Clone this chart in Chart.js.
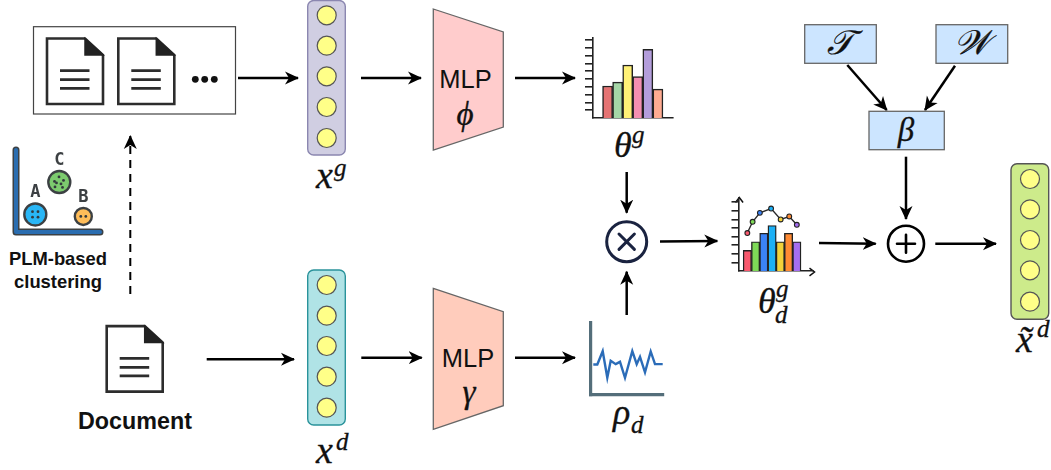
<!DOCTYPE html>
<html>
<head>
<meta charset="utf-8">
<title>Document model diagram</title>
<script src="https://cdn.jsdelivr.net/npm/chart.js@4/dist/chart.umd.min.js"></script>
<style>
  html, body { margin: 0; padding: 0; background: #fff; }
  #stage { position: relative; width: 1051px; height: 470px; overflow: hidden; }
  #stage svg { position: absolute; left: 0; top: 0; }
  #stage canvas { position: absolute; }
  .m { font-family: "Liberation Serif", serif; font-style: italic; fill: #111; stroke: #111; stroke-width: 0.3; }
  .s { font-family: "Liberation Sans", sans-serif; fill: #111; }
  .b { font-family: "Liberation Sans", sans-serif; font-weight: bold; fill: #111; }
  .arrow { stroke: #000; stroke-width: 2.5; fill: none; marker-end: url(#head); }
  .dot { fill: #ffff88; stroke: #555; stroke-width: 1.2; }
</style>
</head>
<body>
<div id="stage">
<svg width="1051" height="470" viewBox="0 0 1051 470" xmlns="http://www.w3.org/2000/svg">
  <defs>
    <marker id="head" markerUnits="userSpaceOnUse" markerWidth="16" markerHeight="14" viewBox="0 0 16 14" refX="13" refY="7" orient="auto">
      <path d="M0 0.5 L14 7 L0 13.5 L4 7 Z" fill="#000"/>
    </marker>
    <g id="doc">
      <path d="M47 38.5 H85 L103 55 V104 H47 Z" fill="#fff" stroke="#2d2d2d" stroke-width="2.6"/>
      <path d="M85 38.5 L103 55 H85 Z" fill="#222" stroke="#222" stroke-width="1.5"/>
      <path d="M60 70.7 H89.5 M60 79.7 H89.5 M60 88.3 H89.5" stroke="#2d2d2d" stroke-width="2.8"/>
    </g>
  </defs>

  <!-- document stack -->
  <rect x="33.5" y="26.7" width="202" height="87.3" fill="#fff" stroke="#444" stroke-width="1.2"/>
  <use href="#doc"/>
  <use href="#doc" x="71.3"/>
  <circle cx="195.3" cy="79.3" r="3.4" fill="#111"/>
  <circle cx="204.7" cy="79.3" r="3.4" fill="#111"/>
  <circle cx="214.3" cy="79.3" r="3.4" fill="#111"/>
  <use href="#doc" x="59.7" y="287.6"/>

  <text class="b" x="58" y="264.5" font-size="18.4" text-anchor="middle">PLM-based</text>
  <text class="b" x="58" y="288" font-size="18.4" text-anchor="middle">clustering</text>
  <text class="b" x="135" y="429" font-size="23.3" text-anchor="middle">Document</text>

  <!-- vectors -->
  <rect x="307.7" y="0.5" width="37.6" height="154.5" rx="6" fill="#d0cee2" stroke="#8b87b0" stroke-width="1.4"/>
  <circle class="dot" cx="326.7" cy="15.3" r="9.5"/><circle class="dot" cx="326.7" cy="45.7" r="9.5"/><circle class="dot" cx="326.7" cy="76.3" r="9.5"/><circle class="dot" cx="326.7" cy="107" r="9.5"/><circle class="dot" cx="326.7" cy="138" r="9.5"/>
  <rect x="307.7" y="270" width="37.6" height="155" rx="6" fill="#b0e3e6" stroke="#2a939b" stroke-width="1.4"/>
  <circle class="dot" cx="326.7" cy="285" r="9.5"/><circle class="dot" cx="326.7" cy="315.7" r="9.5"/><circle class="dot" cx="326.7" cy="346" r="9.5"/><circle class="dot" cx="326.7" cy="376.7" r="9.5"/><circle class="dot" cx="326.7" cy="407.7" r="9.5"/>
  <rect x="1011" y="163.7" width="37.7" height="155.6" rx="6" fill="#cdeb8b" stroke="#555" stroke-width="1.4"/>
  <circle class="dot" cx="1030" cy="179" r="9.5"/><circle class="dot" cx="1030" cy="209.3" r="9.5"/><circle class="dot" cx="1030" cy="240" r="9.5"/><circle class="dot" cx="1030" cy="270.3" r="9.5"/><circle class="dot" cx="1030" cy="301.7" r="9.5"/>

  <!-- MLP blocks -->
  <path d="M433.3 9 L503.3 32 V127 L433.3 150 Z" fill="#ffcccc" stroke="#666" stroke-width="1.3"/>
  <text class="s" x="465.5" y="88" font-size="25.5" text-anchor="middle">MLP</text>
  <text class="m" x="465" y="125" font-size="33" text-anchor="middle">ϕ</text>
  <path d="M433.3 288.3 L503.3 311.7 V405.7 L433.3 429.3 Z" fill="#ffccbc" stroke="#666" stroke-width="1.3"/>
  <text class="s" x="468" y="367.3" font-size="25.5" text-anchor="middle">MLP</text>
  <text class="m" x="469" y="403" font-size="33" text-anchor="middle">γ</text>

  <!-- topic / word boxes -->
  <rect x="804.7" y="24.7" width="71.6" height="38.6" fill="#cce5ff" stroke="#666" stroke-width="1.3"/>
  <rect x="936" y="24.7" width="71.7" height="38.6" fill="#cce5ff" stroke="#666" stroke-width="1.3"/>
  <rect x="869" y="111.3" width="75.3" height="38.4" fill="#cce5ff" stroke="#666" stroke-width="1.3"/>
  <text class="m" x="840" y="54" font-size="34" text-anchor="middle">𝒯</text>
  <text class="m" x="972" y="54" font-size="34" text-anchor="middle">𝒲</text>
  <text class="m" x="906" y="141" font-size="33" text-anchor="middle">β</text>

  <!-- operators -->
  <circle cx="626.7" cy="241.7" r="20" fill="#fff" stroke="#1a2340" stroke-width="3"/>
  <path d="M619 234 L634.4 249.4 M634.4 234 L619 249.4" stroke="#1a2340" stroke-width="3" stroke-linecap="round"/>
  <circle cx="906" cy="243.7" r="18" fill="#fff" stroke="#000" stroke-width="2.6"/>
  <path d="M897 243.7 H915 M906 234.7 V252.7" stroke="#000" stroke-width="2.6" stroke-linecap="round"/>

  <!-- arrows -->
  <line class="arrow" x1="238" y1="78" x2="298" y2="78"/>
  <line class="arrow" x1="361" y1="78" x2="421" y2="78"/>
  <line class="arrow" x1="515" y1="78" x2="575" y2="78"/>
  <line class="arrow" x1="206.7" y1="359.3" x2="294" y2="359.3"/>
  <line class="arrow" x1="361.3" y1="357.7" x2="421.7" y2="357.7"/>
  <line class="arrow" x1="515" y1="357.7" x2="575" y2="357.7"/>
  <line class="arrow" x1="626.7" y1="172" x2="626.7" y2="212.7"/>
  <line class="arrow" x1="626.7" y1="315" x2="626.7" y2="271.7"/>
  <line class="arrow" x1="660" y1="241.5" x2="717.3" y2="241"/>
  <line class="arrow" x1="819" y1="243" x2="875.7" y2="243.7"/>
  <line class="arrow" x1="935.3" y1="243.7" x2="996" y2="243.7"/>
  <line class="arrow" x1="906" y1="156.7" x2="906" y2="219"/>
  <line class="arrow" x1="847.3" y1="65" x2="886.7" y2="110"/>
  <line class="arrow" x1="955" y1="65.7" x2="925" y2="110"/>
  <line x1="130.3" y1="294" x2="130.3" y2="136" stroke="#000" stroke-width="2" stroke-dasharray="8 6" marker-end="url(#head)"/>

  <!-- axis arrow tips of the combined chart -->
  <path d="M735.5 202.5 L739.3 197.5 L743.1 202.5" fill="none" stroke="#111" stroke-width="1.5"/>
  <path d="M809.5 268.2 L814.5 272 L809.5 275.8" fill="none" stroke="#111" stroke-width="1.5"/>

  <!-- math labels -->
  <text class="m" x="316" y="188" font-size="38">x</text><text class="m" x="334" y="176" font-size="25">g</text>
  <text class="m" x="316" y="463" font-size="38">x</text><text class="m" x="336" y="450" font-size="25">d</text>
  <text class="m" x="614" y="156.5" font-size="36">θ</text><text class="m" x="632" y="143" font-size="25">g</text>
  <text class="m" x="758" y="313" font-size="36">θ</text><text class="m" x="776" y="297" font-size="25">g</text><text class="m" x="775" y="323" font-size="25">d</text>
  <text class="m" x="613" y="424" font-size="36">ρ</text><text class="m" x="631" y="433" font-size="25">d</text>
  <text class="m" x="1016" y="352" font-size="38">x̃</text><text class="m" x="1037" y="337" font-size="25">d</text>
</svg>
<canvas id="clusterChart"></canvas>
<canvas id="globalChart"></canvas>
<canvas id="localChart"></canvas>
<canvas id="mixChart"></canvas>
</div>

<script>
"use strict";

// theta^g histogram
const globalBins = ['t1', 't2', 't3', 't4', 't5', 't6'];
const globalValues = [4.1, 4.6, 6.8, 5.3, 8.8, 3.7];
const globalColors = ['#e57373', '#a5d6a7', '#fff176', '#f48fb1', '#b39ddb', '#ffab91'];

// theta_d^g bars plus the curve above them
const mixBars = [2.4, 3.4, 4.4, 5.3, 3.4, 4.4, 3.4];
const mixCurveX = [0, 0.64, 1.52, 2.88, 4.04, 5.08, 6];
const mixCurveY = [4.42, 5.73, 6.77, 7.27, 6, 6.35, 5.38];
const mixColors = ['#f9596e', '#7ed957', '#3b82f6', '#1cb0f6', '#f2d13a', '#ff8a33', '#a56ef0'];

// rho_d signal
const rhoX = [2.3, 6.3, 11.7, 16.3, 19.7, 24.7, 29, 34, 41.3, 45.7, 49, 54, 59.7, 64, 71.7];
const rhoY = [30.7, 30.7, 44, 17.3, 34.3, 31, 33.3, 17.3, 44, 31, 38.3, 22.7, 43.7, 31, 31];

// PLM clusters
const clusterNames = ['A', 'B', 'C'];
const clusterX = [19.3, 67.3, 43.3];
const clusterY = [17.7, 15.7, 50.4];
const clusterSizes = [11, 8.5, 11];
const clusterColors = ['#29b6f6', '#ffbd59', '#7ccb6e'];
const seedX = [16.5, 22, 16.5, 22, 64.8, 69.8, 38.5, 43, 47.5, 40.5, 45, 39, 46.5];
const seedY = [20.5, 20.5, 15, 15, 15.7, 15.7, 51, 55.5, 52, 49.5, 48.5, 45.5, 45];

const margin = 14;

function place(id, left, top, width, height) {
  const c = document.getElementById(id);
  c.width = width + margin * 2;
  c.height = height + margin * 2;
  c.style.left = (left - margin) + 'px';
  c.style.top = (top - margin) + 'px';
  return c;
}

function axisOpts(min, max, color, lineWidth, tickLen, step) {
  return {
    type: 'linear',
    min,
    max,
    offset: false,
    afterFit(scale) {
      if (scale.isHorizontal()) scale.height = 0; else scale.width = 0;
    },
    afterTickToLabelConversion(scale) {
      scale.ticks = scale.ticks.filter(t => t.value !== 0);
    },
    ticks: { display: false, stepSize: step || 1000, includeBounds: false },
    border: { display: true, color, width: lineWidth },
    grid: { display: tickLen > 0, offset: false, drawOnChartArea: false, drawTicks: tickLen > 0, tickLength: tickLen, color, lineWidth: lineWidth }
  };
}

function baseOpts(x, y) {
  return {
    responsive: false,
    animation: false,
    events: [],
    layout: { padding: margin },
    plugins: { legend: { display: false }, tooltip: { enabled: false } },
    scales: { x, y }
  };
}

new Chart(place('globalChart', 592.7, 38, 80, 80), {
  type: 'bar',
  data: {
    datasets: [{
      data: globalValues.map((v, i) => ({ x: i, y: v, bin: globalBins[i] })),
      backgroundColor: globalColors,
      borderColor: '#222',
      borderWidth: 1.5,
      barPercentage: 1,
      categoryPercentage: 1
    }]
  },
  options: baseOpts(axisOpts(-1.45, 6.5, '#222', 1.6, 0), axisOpts(0, 10.26, '#222', 1.6, 8, 1))
});

new Chart(place('mixChart', 739.3, 198.3, 74.7, 73.7), {
  type: 'bar',
  data: {
    datasets: [{
      data: mixBars.map((v, i) => ({ x: i, y: v })),
      backgroundColor: mixColors,
      borderColor: '#222',
      borderWidth: 1.4,
      barThickness: 8.33,
      order: 2
    }, {
      type: 'line',
      data: mixCurveX.map((x, i) => ({ x, y: mixCurveY[i] })),
      borderColor: '#2a2a2a',
      borderWidth: 1.4,
      tension: 0,
      pointRadius: 2.4,
      pointBorderWidth: 1.1,
      pointBorderColor: '#222',
      pointBackgroundColor: mixColors,
      order: 1
    }]
  },
  options: baseOpts(axisOpts(-1.01, 7.96, '#222', 1.6, 0), axisOpts(0, 8.5, '#222', 1.6, 7.5, 1))
});

new Chart(place('localChart', 591, 322.7, 72, 72.3), {
  type: 'line',
  data: {
    datasets: [{
      data: rhoX.map((x, i) => ({ x, y: rhoY[i] })),
      borderColor: '#2b6cb8',
      borderWidth: 2.4,
      tension: 0,
      pointRadius: 0
    }]
  },
  options: baseOpts(axisOpts(0, 72, '#546e7a', 3.2, 0), axisOpts(0, 72.3, '#546e7a', 3.2, 0))
});

// thick two tone axes and the A / B / C captions of the cluster plot
const clusterDecor = {
  id: 'clusterDecor',
  beforeDatasetsDraw(chart) {
    const { ctx, chartArea: a } = chart;
    ctx.save();
    ctx.lineCap = 'round';
    ctx.lineJoin = 'round';
    [['#3c4043', 7], ['#2a6db0', 4]].forEach(([color, w]) => {
      ctx.strokeStyle = color;
      ctx.lineWidth = w;
      ctx.beginPath();
      ctx.moveTo(a.left, a.top);
      ctx.lineTo(a.left, a.bottom);
      ctx.lineTo(a.right, a.bottom);
      ctx.stroke();
    });
    ctx.restore();
  },
  afterDatasetsDraw(chart) {
    const { ctx, scales } = chart;
    ctx.save();
    ctx.fillStyle = '#3c4043';
    ctx.font = 'bold 17px "DejaVu Sans Mono", "DejaVu Sans"';
    ctx.textAlign = 'center';
    ctx.textBaseline = 'middle';
    clusterNames.forEach((name, i) => {
      ctx.fillText(name, scales.x.getPixelForValue(clusterX[i]),
        scales.y.getPixelForValue(clusterY[i]) - clusterSizes[i] - 10.5);
    });
    ctx.restore();
  }
};

new Chart(place('clusterChart', 16, 150, 84, 82.7), {
  type: 'scatter',
  plugins: [clusterDecor],
  data: {
    datasets: [{
      data: seedX.map((x, i) => ({ x, y: seedY[i] })),
      pointRadius: 1.4,
      pointBorderWidth: 0,
      pointBackgroundColor: '#33393d'
    }, {
      data: clusterX.map((x, i) => ({ x, y: clusterY[i] })),
      pointRadius: clusterSizes,
      pointBorderWidth: 2.4,
      pointBorderColor: '#3c4043',
      pointBackgroundColor: clusterColors
    }]
  },
  options: baseOpts(axisOpts(0, 84, 'transparent', 0, 0), axisOpts(0, 82.7, 'transparent', 0, 0))
});
</script>
</body>
</html>
